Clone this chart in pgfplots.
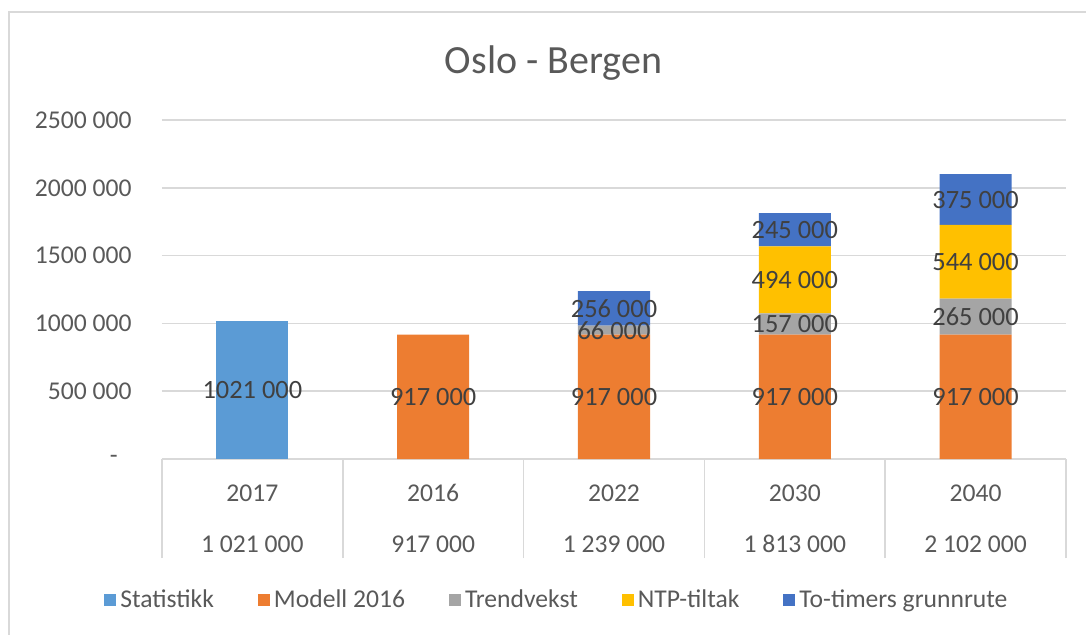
\documentclass[border=0pt]{standalone}
\usepackage{pgfplots}
\pgfplotsset{compat=1.18}
\usepackage{fontspec}
\setmainfont{Carlito}
\definecolor{cStat}{HTML}{5B9BD5}
\definecolor{cMod}{HTML}{ED7D31}
\definecolor{cTrend}{HTML}{A5A5A5}
\definecolor{cNTP}{HTML}{FFC000}
\definecolor{cTo}{HTML}{4472C4}
\definecolor{gridc}{HTML}{D9D9D9}
\definecolor{tickc}{HTML}{595959}
\definecolor{labc}{HTML}{404040}
\pgfplotsset{
  sqleg/.style={legend image code/.code={\draw[##1,draw=none,/tikz/.cd] (0pt,-3pt) rectangle (6pt,3pt);}},
}
\begin{document}
\begin{tikzpicture}
\useasboundingbox (-81pt,-87.5pt) rectangle (462pt,229.5pt);
\draw[gridc, line width=1pt] (-76.5pt,-95pt) -- (-76.5pt,223.5pt) -- (470pt,223.5pt);
\node[anchor=base, inner sep=0pt, font=\fontsize{20}{24}\selectfont, text=tickc] at (195.75pt,193pt) {Oslo - Bergen};
\begin{axis}[
  at={(0pt,0pt)}, anchor=south west,
  width=452pt, height=169.5pt, scale only axis,
  xmin=-0.5, xmax=4.5, ymin=0, ymax=2500000,
  ybar stacked, bar width=36pt,
  separate axis lines,
  axis x line*=bottom, axis y line*=left,
  x axis line style={draw=gridc, line width=0.75pt, -},
  y axis line style={draw=none},
  ymajorgrids, grid style={draw=gridc, line width=0.75pt},
  ytick={0,500000,1000000,1500000,2000000,2500000},
  yticklabels={{-\rule{7pt}{0pt}},{500 000},{1000 000},{1500 000},{2000 000},{2500 000}},
  ytick style={draw=none},
  yticklabel style={anchor=east, inner sep=0pt, xshift=-15pt, font=\fontsize{12.8}{15}\selectfont, text=tickc},
  xtick={-0.5,0.5,1.5,2.5,3.5,4.5},
  x tick label as interval,
  xticklabels={{2017\\1 021 000},{2016\\917 000},{2022\\1 239 000},{2030\\1 813 000},{2040\\2 102 000},{}},
  xtick style={draw=gridc, line width=0.75pt},
  xtick align=outside,
  xmajorgrids=false,
  major tick length=49.5pt,
  xticklabel style={align=center, anchor=north, inner sep=0pt, yshift=37pt, font=\fontsize{12.8}{25.5}\selectfont, text=tickc},
  scaled y ticks=false,
  legend columns=5,
  legend style={draw=none, fill=none, at={(axis description cs:0.438,-0.416)}, anchor=center,
    font=\fontsize{12.8}{15}\selectfont, text=tickc, inner sep=0pt,
    /tikz/every even column/.append style={column sep=20pt}},
]
\addplot[fill=cStat, draw=none, sqleg] coordinates {(0,1021000) (1,0) (2,0) (3,0) (4,0)};
\addplot[fill=cMod, draw=none, sqleg] coordinates {(0,0) (1,917000) (2,917000) (3,917000) (4,917000)};
\addplot[fill=cTrend, draw=none, sqleg] coordinates {(0,0) (1,0) (2,66000) (3,157000) (4,265000)};
\addplot[fill=cNTP, draw=none, sqleg] coordinates {(0,0) (1,0) (2,0) (3,494000) (4,544000)};
\addplot[fill=cTo, draw=none, sqleg] coordinates {(0,0) (1,0) (2,256000) (3,245000) (4,375000)};
\legend{Statistikk,Modell 2016,Trendvekst,NTP-tiltak,To-timers grunnrute}
\end{axis}
\begin{axis}[
  at={(0pt,0pt)}, anchor=south west,
  width=452pt, height=169.5pt, scale only axis,
  xmin=-0.5, xmax=4.5, ymin=0, ymax=2500000,
  hide axis, clip=false,
]
\addplot[only marks, mark=none, nodes near coords, point meta=explicit symbolic,
  every node near coord/.append style={anchor=center, inner sep=0pt, font=\fontsize{13.2}{15}\selectfont, text=labc}]
  coordinates {
  (0,510500) [1021 000]
  (1,458500) [917 000]
  (2,458500) [917 000]
  (2,950000) [66 000]
  (2,1111000) [256 000]
  (3,458500) [917 000]
  (3,995500) [157 000]
  (3,1321000) [494 000]
  (3,1690500) [245 000]
  (4,458500) [917 000]
  (4,1049500) [265 000]
  (4,1454000) [544 000]
  (4,1913500) [375 000]
  };
\end{axis}
\end{tikzpicture}
\end{document}
